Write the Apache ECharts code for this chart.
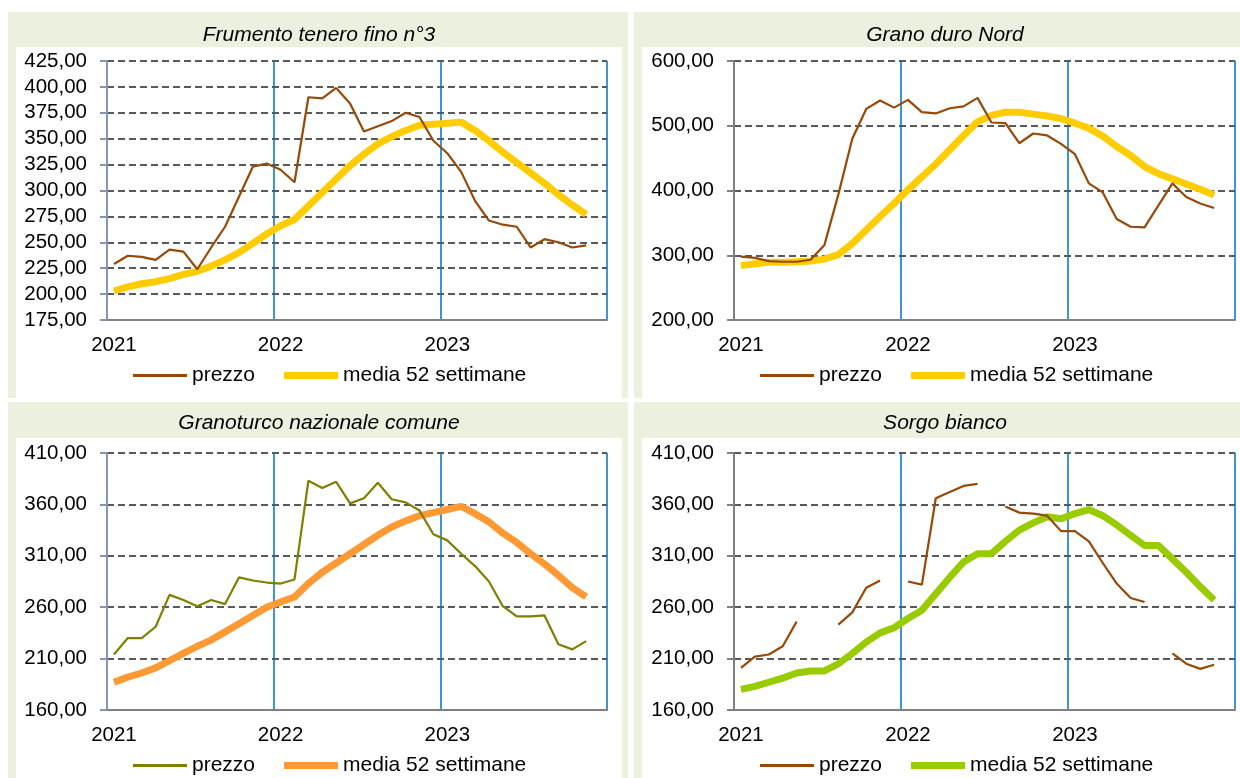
<!DOCTYPE html>
<html>
<head>
<meta charset="utf-8">
<script src="https://cdn.jsdelivr.net/npm/echarts@6/dist/echarts.min.js"></script>
<style>
  body { margin: 0; background: #fff; width: 1240px; height: 778px; overflow: hidden; }
  .panel { position: absolute; background: #EBF1DE; }
</style>
</head>
<body>
<div id="p1" class="panel" style="left:8px;top:12px;width:620px;height:386px"></div>
<div id="p2" class="panel" style="left:634px;top:12px;width:606px;height:386px"></div>
<div id="p3" class="panel" style="left:8px;top:402px;width:620px;height:376px"></div>
<div id="p4" class="panel" style="left:634px;top:402px;width:606px;height:376px"></div>
<script>
// mesi (categorie dell'asse x)
var months = [
  '2021-01', '2021-02', '2021-03', '2021-04', '2021-05', '2021-06',
  '2021-07', '2021-08', '2021-09', '2021-10', '2021-11', '2021-12',
  '2022-01', '2022-02', '2022-03', '2022-04', '2022-05', '2022-06',
  '2022-07', '2022-08', '2022-09', '2022-10', '2022-11', '2022-12',
  '2023-01', '2023-02', '2023-03', '2023-04', '2023-05', '2023-06',
  '2023-07', '2023-08', '2023-09', '2023-10', '2023-11', '2023-12'
];

var frumentoPrezzo = [229, 237, 236, 233, 243, 241, 224, 245, 265, 294, 323, 326, 320, 308, 390, 389, 399, 384,
  357, 362, 367, 375, 371, 348, 336, 318, 290, 271, 267, 265, 245, 253, 250, 245, 247];
var frumentoMedia = [203, 207, 210, 212, 215, 219, 222, 227, 233, 240, 249, 258, 266, 272, 285, 298, 311, 324,
  335, 345, 352, 358, 363, 364, 365, 366, 358, 348, 337, 327, 317, 307, 296, 286, 277];

var duroPrezzo = [298, 296, 291, 290, 290, 293, 316, 394, 480, 526, 539, 528, 540, 521, 519, 527, 530, 543,
  505, 504, 473, 488, 485, 472, 456, 411, 397, 356, 344, 343, 377, 411, 390, 380, 373];
var duroMedia = [284, 287, 289, 289, 290, 291, 294, 301, 318, 339, 360, 380, 401, 421, 441, 463, 485, 506,
  516, 521, 521, 518, 515, 511, 504, 496, 484, 468, 454, 437, 426, 418, 410, 402, 393];

var granoturcoPrezzo = [214, 230, 230, 241, 272, 267, 261, 267, 263, 289, 286, 284, 283, 287, 383, 376, 382, 361,
  366, 381, 365, 362, 354, 331, 325, 312, 300, 285, 261, 251, 251, 252, 224, 219, 227];
var granoturcoMedia = [187, 192, 196, 201, 208, 215, 222, 228, 236, 244, 252, 260, 265, 270, 283, 294, 303, 312,
  321, 330, 338, 344, 349, 352, 355, 358, 351, 343, 332, 323, 312, 302, 291, 279, 270];

var sorgoPrezzo = [201, 212, 214, 222, 246, null, null, 243, 255, 279, 286, null, 285, 282, 366, 372, 378, 380,
  null, 358, 352, 351, 349, 334, 334, 324, 303, 283, 269, 265, null, 215, 205, 200, 204];
var sorgoMedia = [180, 183, 187, 191, 196, 198, 198, 205, 215, 226, 235, 240, 249, 257, 273, 289, 304, 312,
  312, 324, 335, 342, 348, 346, 351, 355, 349, 340, 330, 320, 320, 307, 294, 280, 267];

var FONT = 'Liberation Sans, Arial, sans-serif';

function makePanel(id, cfg) {
  var dom = document.getElementById(id);
  var w = dom.clientWidth, h = dom.clientHeight;
  var chart = echarts.init(dom, null, { renderer: 'canvas' });
  var option = {
    animation: false,
    backgroundColor: 'transparent',
    graphic: [
      {
        type: 'rect', z: -10, silent: true,
        shape: { x: 8, y: cfg.whiteTop, width: w - 8 - cfg.whiteRight, height: h - cfg.whiteTop },
        style: { fill: '#ffffff' }
      },
      {
        type: 'text', x: 311, y: cfg.titleY,
        style: {
          text: cfg.title, fill: '#000', font: 'italic 21px ' + FONT,
          textAlign: 'center', textVerticalAlign: 'middle'
        }
      }
    ],
    grid: { left: cfg.left, top: cfg.top, width: cfg.width, height: cfg.height },
    legend: {
      left: cfg.left + 21, top: 348,
      itemWidth: 54, itemHeight: 10, itemGap: 29,
      textStyle: { fontSize: 21, fontFamily: FONT, color: '#000' },
      // linee della legenda: sottile per il prezzo, spessa per la media
      data: [
        { name: 'prezzo', icon: 'path://M0,0h54v3h-54z' },
        { name: 'media 52 settimane', icon: 'path://M0,0h54v7h-54z' }
      ]
    },
    xAxis: {
      type: 'category',
      data: months,
      boundaryGap: true,
      axisLine: { lineStyle: { color: '#808080', width: 2 } },
      axisTick: { interval: 11, length: 7, lineStyle: { color: '#808080', width: 2 } },
      axisLabel: {
        interval: 11, margin: 15, fontSize: 20.5, fontFamily: FONT, color: '#000',
        formatter: function (v) { return v.slice(0, 4); }
      },
      splitLine: { show: true, interval: 11, lineStyle: { color: '#0070C0', width: 1.5 } }
    },
    yAxis: {
      type: 'value',
      min: cfg.min, max: cfg.max, interval: cfg.interval,
      axisLine: { show: true, lineStyle: { color: cfg.yAxisColor, width: 2 } },
      axisTick: { show: true, length: 7, lineStyle: { color: cfg.yAxisColor, width: 2 } },
      axisLabel: {
        margin: 20, fontSize: 20.5, fontFamily: FONT, color: '#000',
        formatter: function (v) { return v.toFixed(2).replace('.', ','); }
      },
      splitLine: { lineStyle: { color: '#595959', width: 2.2, type: [7, 4] } }
    },
    series: [
      {
        name: 'prezzo', type: 'line', data: cfg.prezzo,
        symbol: 'none', connectNulls: false, z: 3,
        lineStyle: { color: cfg.prezzoColor, width: 2.2 },
        itemStyle: { color: cfg.prezzoColor }
      },
      {
        name: 'media 52 settimane', type: 'line', data: cfg.media,
        symbol: 'none', z: 2,
        lineStyle: { color: cfg.mediaColor, width: 7 },
        itemStyle: { color: cfg.mediaColor }
      }
    ]
  };
  chart.setOption(option);
  return chart;
}

makePanel('p1', {
  title: 'Frumento tenero fino n°3', titleY: 23, whiteTop: 35, whiteRight: 6,
  left: 99, top: 49, width: 500, height: 259,
  min: 175, max: 425, interval: 25, yAxisColor: '#8497B0',
  prezzo: frumentoPrezzo, media: frumentoMedia,
  prezzoColor: '#984807', mediaColor: '#FFCC00'
});
makePanel('p2', {
  title: 'Grano duro Nord', titleY: 23, whiteTop: 35, whiteRight: 0,
  left: 100, top: 49, width: 501, height: 259,
  min: 200, max: 600, interval: 100, yAxisColor: '#808080',
  prezzo: duroPrezzo, media: duroMedia,
  prezzoColor: '#984807', mediaColor: '#FFCC00'
});
makePanel('p3', {
  title: 'Granoturco nazionale comune', titleY: 21, whiteTop: 36, whiteRight: 6,
  left: 99, top: 51, width: 500, height: 257,
  min: 160, max: 410, interval: 50, yAxisColor: '#8497B0',
  prezzo: granoturcoPrezzo, media: granoturcoMedia,
  prezzoColor: '#7F7F00', mediaColor: '#FF9933'
});
makePanel('p4', {
  title: 'Sorgo bianco', titleY: 21, whiteTop: 36, whiteRight: 0,
  left: 100, top: 51, width: 501, height: 257,
  min: 160, max: 410, interval: 50, yAxisColor: '#808080',
  prezzo: sorgoPrezzo, media: sorgoMedia,
  prezzoColor: '#984807', mediaColor: '#99CC00'
});
</script>
</body>
</html>
